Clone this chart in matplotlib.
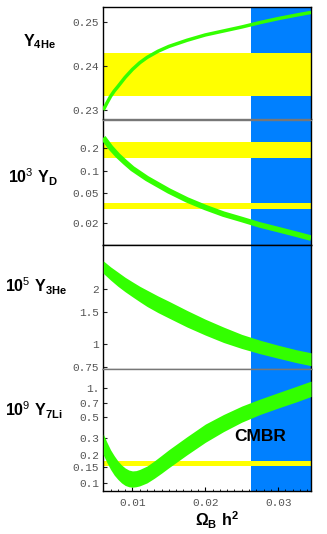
import numpy as np
import matplotlib
matplotlib.use('Agg')
import matplotlib.pyplot as plt
from matplotlib.font_manager import FontProperties
from matplotlib.ticker import FixedLocator, FixedFormatter, MultipleLocator, NullLocator

plt.rcParams['mathtext.fontset'] = 'custom'
plt.rcParams['mathtext.rm'] = 'Liberation Sans'
plt.rcParams['mathtext.bf'] = 'Liberation Sans:bold'

# baryon density axis
x_range = [0.006, 0.0345]
cmbr_range = [0.0262, 0.0345]
x_ticks = [0.01, 0.02, 0.03]
x_ticklabels = ['0.01', '0.02', '0.03']

# He-4 mass fraction (thin curve)
he4_x = [0.006, 0.0065, 0.007, 0.0075, 0.008, 0.009, 0.01, 0.011, 0.012, 0.0135, 0.015,
         0.0175, 0.02, 0.0225, 0.025, 0.0275, 0.03, 0.0325, 0.0345]
he4_y = [0.2300, 0.2316, 0.2331, 0.2343, 0.2353, 0.2374, 0.2392, 0.2407, 0.2419, 0.2433, 0.2444,
         0.2458, 0.2470, 0.2479, 0.2488, 0.2498, 0.2507, 0.2515, 0.2521]
he4_obs = [0.2331, 0.2428]
he4_lim = [0.22785, 0.25326]
he4_ticks = [0.23, 0.24, 0.25]
he4_labels = ['0.23', '0.24', '0.25']

# deuterium
d_x = [0.006, 0.007, 0.008, 0.009, 0.01, 0.012, 0.015, 0.0175, 0.02, 0.0225, 0.025,
       0.0275, 0.03, 0.0325, 0.0345]
d_y = [0.277, 0.205, 0.160, 0.130, 0.107, 0.079, 0.054, 0.041, 0.0325, 0.0265, 0.0225,
       0.0190, 0.0165, 0.0143, 0.0127]
d_obs = [[0.147, 0.245], [0.0313, 0.0373]]
d_lim = [0.01028, 0.484]
d_ticks = [0.02, 0.05, 0.1, 0.2]
d_labels = ['0.02', '0.05', '0.1', '0.2']

# He-3 band
he3_x = [0.006, 0.007, 0.008, 0.009, 0.01, 0.011, 0.012, 0.0135, 0.015, 0.0175, 0.02,
         0.0225, 0.025, 0.0275, 0.03, 0.0325, 0.0345]
he3_hi = [2.87, 2.66, 2.49, 2.33, 2.20, 2.08, 1.98, 1.84, 1.72, 1.53, 1.37,
          1.24, 1.13, 1.05, 0.985, 0.93, 0.895]
he3_lo = [2.45, 2.25, 2.08, 1.94, 1.82, 1.71, 1.61, 1.49, 1.39, 1.24, 1.12,
          1.02, 0.945, 0.885, 0.835, 0.79, 0.76]
he3_lim = [0.726, 3.51]
he3_ticks = [0.75, 1, 1.5, 2]
he3_labels = ['0.75', '1', '1.5', '2']

# Li-7 band
li_x = [0.006, 0.0065, 0.007, 0.0075, 0.008, 0.0085, 0.009, 0.0095, 0.01, 0.0105, 0.011,
        0.012, 0.013, 0.014, 0.015, 0.0175, 0.02, 0.0225, 0.025, 0.0275, 0.03, 0.0325, 0.0345]
li_hi = [0.33, 0.27, 0.225, 0.195, 0.172, 0.156, 0.145, 0.138, 0.135, 0.136, 0.140,
         0.152, 0.172, 0.197, 0.226, 0.31, 0.42, 0.53, 0.65, 0.77, 0.90, 1.05, 1.19]
li_lo = [0.20, 0.165, 0.140, 0.122, 0.110, 0.101, 0.095, 0.092, 0.091, 0.092, 0.094,
         0.101, 0.113, 0.128, 0.146, 0.20, 0.27, 0.35, 0.44, 0.53, 0.62, 0.72, 0.82]
li_obs = [0.153, 0.172]
li_lim = [0.0836, 1.585]
li_ticks = [0.1, 0.15, 0.2, 0.3, 0.5, 0.7, 1.0]
li_labels = ['0.1', '0.15', '0.2', '0.3', '0.5', '0.7', '1.']

green = '#33ff00'
blue = '#0080ff'
yellow = '#ffff00'
tick_fp = FontProperties(family='Liberation Mono', size=8)
tick_color = '#555555'

W, H = 327, 534
fig = plt.figure(figsize=(W / 100, H / 100), dpi=100)

left, right = 103.3, 311
edges = [7.3, 119.5, 245, 369.3, 490.7]
axes = []
for i in range(4):
    top, bot = edges[i], edges[i + 1]
    ax = fig.add_axes([left / W, 1 - bot / H, (right - left) / W, (bot - top) / H])
    ax.set_xlim(x_range)
    ax.axvspan(cmbr_range[0], cmbr_range[1], color=blue, lw=0, zorder=0)
    ax.tick_params(axis='y', direction='in', length=3, width=0.8, colors='#222222', pad=3)
    for s in ['left', 'right']:
        ax.spines[s].set_color('black')
        ax.spines[s].set_linewidth(1.0)
    axes.append(ax)

ax1, ax2, ax3, ax4 = axes

# panel 1
ax1.axhspan(he4_obs[0], he4_obs[1], color=yellow, lw=0, zorder=1)
ax1.plot(he4_x, he4_y, color=green, lw=2.5, zorder=3, solid_capstyle='butt')
ax1.set_ylim(he4_lim)
ax1.yaxis.set_major_locator(FixedLocator(he4_ticks))
ax1.yaxis.set_major_formatter(FixedFormatter(he4_labels))

# panel 2
ax2.set_yscale('log')
for lo, hi in d_obs:
    ax2.axhspan(lo, hi, color=yellow, lw=0, zorder=1)
ax2.plot(d_x, d_y, color=green, lw=4, zorder=3, solid_capstyle='butt')
ax2.set_ylim(d_lim)
ax2.yaxis.set_major_locator(FixedLocator(d_ticks))
ax2.yaxis.set_major_formatter(FixedFormatter(d_labels))

# panel 3
ax3.set_yscale('log')
ax3.fill_between(he3_x, he3_lo, he3_hi, color=green, lw=0, zorder=3)
ax3.set_ylim(he3_lim)
ax3.yaxis.set_major_locator(FixedLocator(he3_ticks))
ax3.yaxis.set_major_formatter(FixedFormatter(he3_labels))

# panel 4
ax4.set_yscale('log')
ax4.axhspan(li_obs[0], li_obs[1], color=yellow, lw=0, zorder=1)
ax4.fill_between(li_x, li_lo, li_hi, color=green, lw=0, zorder=3)
ax4.set_ylim(li_lim)
ax4.yaxis.set_major_locator(FixedLocator(li_ticks))
ax4.yaxis.set_major_formatter(FixedFormatter(li_labels))
ax4.text(0.755, 0.45, 'CMBR', transform=ax4.transAxes, ha='center', va='center',
         fontsize=12.5, fontweight='bold', family='Liberation Sans', color='black', zorder=5)

for ax in axes:
    ax.yaxis.set_minor_locator(NullLocator())
    for lab in ax.get_yticklabels():
        lab.set_fontproperties(tick_fp)
        lab.set_color(tick_color)
    if ax is not ax4:
        ax.tick_params(axis='x', which='both', length=0, labelbottom=False)

ax4.xaxis.set_major_locator(FixedLocator(x_ticks))
ax4.xaxis.set_major_formatter(FixedFormatter(x_ticklabels))
ax4.xaxis.set_minor_locator(MultipleLocator(0.001))
ax4.tick_params(axis='x', which='major', direction='in', length=3, width=0.8, pad=5)
ax4.tick_params(axis='x', which='minor', direction='in', length=1.5, width=0.6)
for lab in ax4.get_xticklabels():
    lab.set_fontproperties(tick_fp)
    lab.set_color(tick_color)

# spines between panels
grey = '#777777'
ax1.spines['top'].set_color('black')
ax1.spines['bottom'].set_color(grey)
ax2.spines['top'].set_color(grey)
ax2.spines['bottom'].set_color('black')
ax3.spines['top'].set_color('black')
ax3.spines['bottom'].set_color(grey)
ax4.spines['top'].set_color(grey)
ax4.spines['bottom'].set_color('black')
for ax in axes:
    ax.spines['top'].set_linewidth(1.0)
    ax.spines['bottom'].set_linewidth(1.0)

# row labels
fig.text(39 / W, 1 - 42 / H, r'$\mathbf{Y_{4He}}$', ha='center', va='center', fontsize=11.5)
fig.text(33 / W, 1 - 177 / H, r'$\mathbf{10}^{3}\ \mathbf{Y_{D}}$', ha='center', va='center', fontsize=11.5)
fig.text(36 / W, 1 - 286 / H, r'$\mathbf{10}^{5}\ \mathbf{Y_{3He}}$', ha='center', va='center', fontsize=11.5)
fig.text(34 / W, 1 - 410 / H, r'$\mathbf{10}^{9}\ \mathbf{Y_{7Li}}$', ha='center', va='center', fontsize=11.5)
fig.text(217 / W, 1 - 520 / H, r'$\mathbf{\Omega_{B}\ h^{2}}$', ha='center', va='center', fontsize=11.5)

fig.savefig('out.png', dpi=100)
